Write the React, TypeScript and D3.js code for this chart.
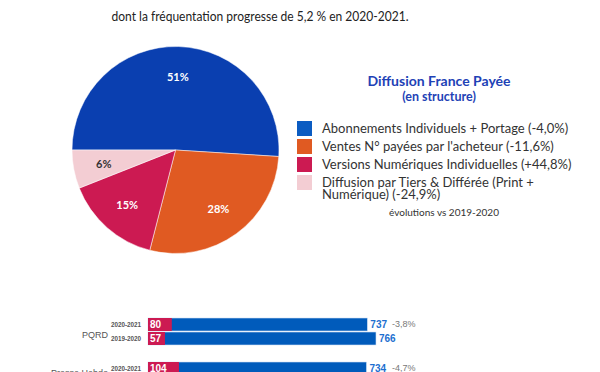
import React from 'react';
import { pie, arc, scaleLinear, scaleBand } from 'd3';

const W = 600;
const H = 372;

// pie: structure of paid distribution
const pieLabels = [
  ['Abonnements Individuels + Portage (-4,0%)'],
  ["Ventes N° payées par l'acheteur (-11,6%)"],
  ['Versions Numériques Individuelles (+44,8%)'],
  ['Diffusion par Tiers & Différée (Print +', 'Numérique) (-24,9%)'],
];
const pieValues = [51, 28, 15, 6];
const pieColors = ['#0a3fb0', '#e05a22', '#cc1a52', '#f3cdd3'];
const legendColors = ['#0b5cc2', '#e05a22', '#cc1a52', '#f3cdd3'];
const pieTextColors = ['#fff', '#fff', '#fff', '#333'];

// bars: digital share + total per title group
const groups = ['PQRD', 'Presse Hebdo'];
const groupLines = [['PQRD'], ['Presse Hebdo', 'Régionale']];
const years = ['2020-2021', '2019-2020'];
const digital = [
  [80, 57],
  [104, 80],
];
const totals = [
  [737, 766],
  [734, 770],
];
const evolutions = ['-3,8%', '-4,7%'];

function App() {
  const cx = 175.5;
  const cy = 150;
  const r = 103.5;

  const arcs = pie<number>()
    .sort(null)
    .startAngle(-Math.PI / 2)
    .endAngle((3 * Math.PI) / 2)(pieValues);
  const slice = arc<any>().innerRadius(0).outerRadius(r);
  const labelArc = arc<any>().innerRadius(73).outerRadius(73);

  const x = scaleLinear().domain([0, 766]).range([148, 376]);
  const gy = scaleBand().domain(groups).range([318, 406]).paddingInner(0);
  const barH = 13;
  const narrow = "'Liberation Sans Narrow', 'Liberation Sans', sans-serif";

  return (
    <svg
      width={W}
      height={H}
      style={{ position: 'absolute', left: 0, top: 0, background: '#fff' }}
      fontFamily="Lato, sans-serif"
    >
      <text x={260} y={-2} textAnchor="middle" fontSize={13} fill="#222" textLength={296} lengthAdjust="spacingAndGlyphs">
        La presse quotidienne régionale et départementale apparaît
      </text>
      <text x={260} y={21} textAnchor="middle" fontSize={13} fill="#222" textLength={297} lengthAdjust="spacingAndGlyphs">
        dont la fréquentation progresse de 5,2 % en 2020-2021.
      </text>

      <g transform={`translate(${cx},${cy})`}>
        {arcs.map((a, i) => (
          <path key={i} d={slice(a) || ''} fill={pieColors[i]} stroke="#fff" strokeWidth={0.5} />
        ))}
        {arcs.map((a, i) => {
          const [lx, ly] = labelArc.centroid(a);
          return (
            <text
              key={i}
              x={lx}
              y={ly}
              dy="0.35em"
              textAnchor="middle"
              fontSize={11}
              fontWeight="bold"
              fill={pieTextColors[i]}
            >
              {pieValues[i]}%
            </text>
          );
        })}
      </g>

      <text x={439} y={86} textAnchor="middle" fontSize={14} fontWeight="bold" fill="#1e42b6">
        Diffusion France Payée
      </text>
      <text x={439} y={101} textAnchor="middle" fontSize={12.5} fontWeight="bold" fill="#1e42b6">
        (en structure)
      </text>
      {pieLabels.map((lines, i) => {
        const y0 = 121 + i * 18;
        return (
          <g key={i}>
            <rect x={297} y={y0} width={15} height={15} fill={legendColors[i]} />
            {lines.map((t, j) => (
              <text key={j} x={322} y={y0 + 12 + j * 11.5} fontSize={13} fill="#333">
                {t}
              </text>
            ))}
          </g>
        );
      })}
      <text x={444} y={216} textAnchor="middle" fontSize={10} fill="#333">
        évolutions vs 2019-2020
      </text>

      {groups.map((g, gi) => {
        const top = gy(g) as number;
        const lines = groupLines[gi];
        return (
          <g key={g}>
            {lines.map((t, j) => (
              <text
                key={j}
                x={108}
                y={top + 20 - (lines.length - 1) * 6 + j * 11}
                textAnchor="end"
                fontSize={9}
                fill="#555"
                fontFamily="'Liberation Sans', Arial, sans-serif"
              >
                {t}
              </text>
            ))}
            {years.map((yr, yi) => {
              const y = top + yi * (barH + 1);
              const tot = totals[gi][yi];
              const dig = digital[gi][yi];
              return (
                <g key={yr}>
                  <text
                    x={141}
                    y={y + 9}
                    textAnchor="end"
                    fontSize={6.3}
                    fontWeight="bold"
                    fill="#555"
                    fontFamily={narrow}
                  >
                    {yr}
                  </text>
                  <rect x={x(0)} y={y} width={x(tot) - x(0)} height={barH} fill="#005bbb" stroke="#cfe0f4" strokeWidth={0.6} />
                  <rect x={x(0)} y={y} width={x(dig) - x(0)} height={barH} fill="#cc1a52" />
                  <text x={x(0) + 2} y={y + 10} fontSize={10} fontWeight="bold" fill="#fff" fontFamily={narrow}>
                    {dig}
                  </text>
                  <text x={x(tot) + 3} y={y + 10} fontSize={10} fontWeight="bold" fill="#1d6fd0" fontFamily={narrow}>
                    {tot}
                  </text>
                  {yi === 0 && (
                    <text x={392} y={y + 9} fontSize={9} fill="#777" fontFamily={narrow}>
                      {evolutions[gi]}
                    </text>
                  )}
                </g>
              );
            })}
          </g>
        );
      })}
    </svg>
  );
}

export default App;
